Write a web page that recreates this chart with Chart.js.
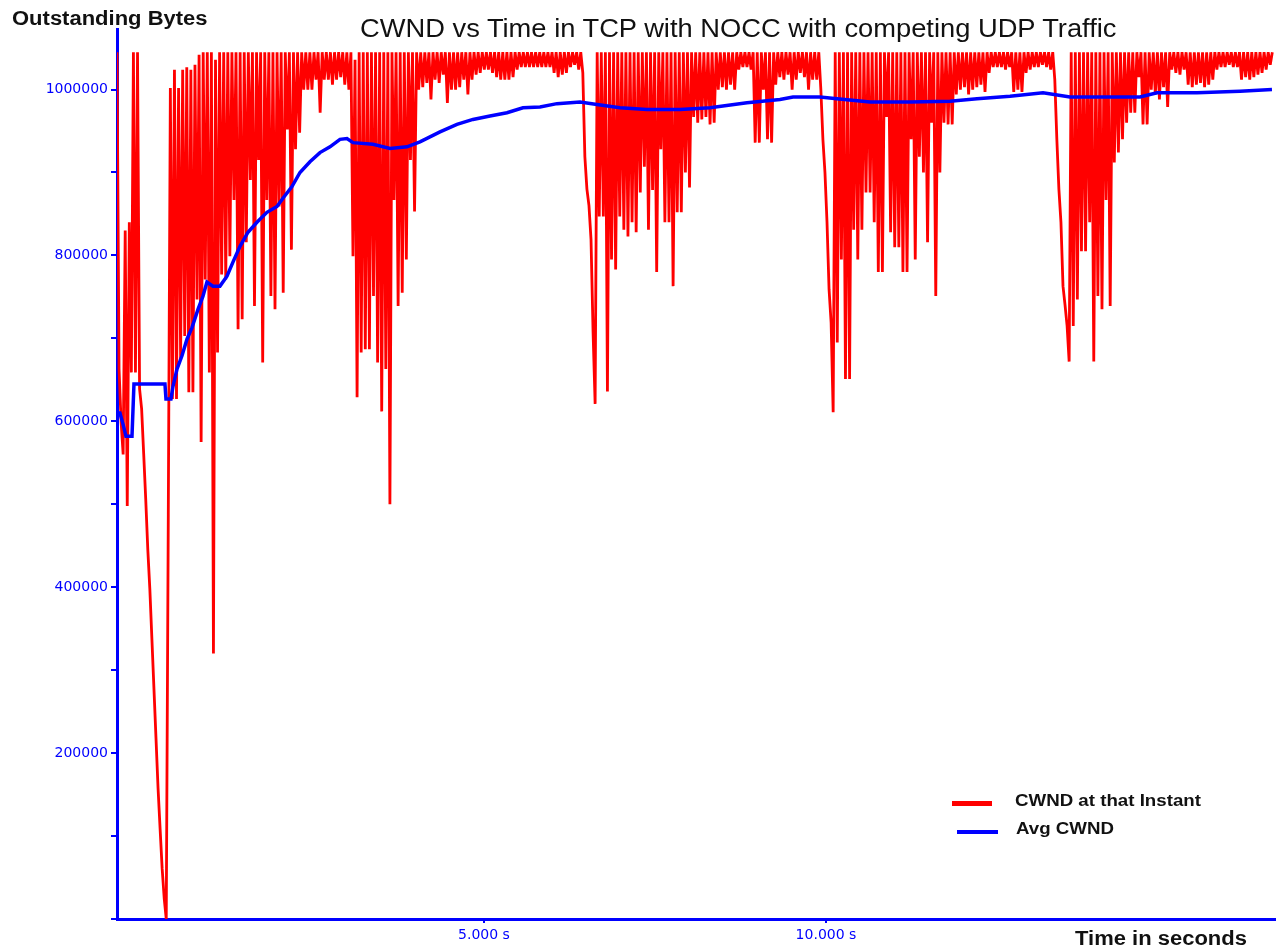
<!DOCTYPE html>
<html>
<head>
<meta charset="utf-8">
<title>CWND vs Time in TCP with NOCC with competing UDP Traffic</title>
<script src="https://cdn.jsdelivr.net/npm/chart.js@4.4.0/dist/chart.umd.min.js"></script>
<style>
    html, body { margin: 0; padding: 0; background: #ffffff; }
    #wrap { position: relative; width: 1276px; height: 951px; overflow: hidden; }
    #cwndChart { position: absolute; left: 0; top: 0; }
    .txt {
        position: absolute;
        font-family: "Liberation Sans", Arial, sans-serif;
        color: #111111;
        white-space: nowrap;
        transform-origin: 0 0;
    }
    #chartTitle { left: 360px; top: 15px; font-size: 26px; line-height: 26px; transform: scaleX(1.05); }
    #yTitle { left: 12px; top: 8px; font-size: 20px; line-height: 20px; font-weight: bold; transform: scaleX(1.1); }
    #xTitle { left: 1075px; top: 928px; font-size: 20px; line-height: 20px; font-weight: bold; transform: scaleX(1.1); }
    .legendText { font-size: 17px; line-height: 17px; font-weight: bold; transform: scaleX(1.1); }
    .legendLine { position: absolute; height: 4px; }
</style>
</head>
<body>
<div id="wrap">
    <canvas id="cwndChart" width="1276" height="951"></canvas>
    <div class="txt" id="chartTitle">CWND vs Time in TCP with NOCC with competing UDP Traffic</div>
    <div class="txt" id="yTitle">Outstanding Bytes</div>
    <div class="txt" id="xTitle">Time in seconds</div>
    <div class="legendLine" style="left:952px; top:801px; width:40px; height:5px; background:#ff0000;"></div>
    <div class="txt legendText" style="left:1015px; top:792px;">CWND at that Instant</div>
    <div class="legendLine" style="left:957px; top:830px; width:41px; background:#0000ff;"></div>
    <div class="txt legendText" style="left:1016px; top:820px;">Avg CWND</div>
</div>
<script>
// x axis range (seconds) and tick labels
const xMin = -0.365;
const xMax = 16.579;
const xTickValues = [5, 10];
const xTickLabels = ['5.000 s', '10.000 s'];

// y axis range (bytes); a tick mark every 100000, a label every 200000
const yMax = 1073000;
const yTickValues = [0, 100000, 200000, 300000, 400000, 500000, 600000, 700000, 800000, 900000, 1000000];
const yLabelValues = [200000, 400000, 600000, 800000, 1000000];

// CWND trace, sampled every 0.03 s starting at redStart
const redStart = -0.365;
const redStep = 0.03;
const redValues = [
    1045000, 663000, 599000, 560000, 830000, 498000, 840000, 659000, 1045000, 659000,
    1045000, 639000, 615000, 561000, 506000, 446000, 398000, 338000, 278000, 218000,
    158000, 109000, 61000, 25000, 0, 488000, 1002000, 627000, 1024000, 627000,
    1002000, 675000, 1024000, 703000, 1027000, 635000, 1024000, 635000, 1030000, 747000,
    1042000, 575000, 1045000, 771000, 1045000, 659000, 1045000, 320000, 1036000, 683000,
    1045000, 777000, 1045000, 771000, 1045000, 799000, 1045000, 867000, 1045000, 711000,
    1045000, 723000, 1045000, 816000, 1045000, 891000, 1045000, 739000, 1045000, 915000,
    1045000, 671000, 1045000, 867000, 1045000, 751000, 1045000, 735000, 1045000, 859000,
    1045000, 755000, 1045000, 952000, 1045000, 807000, 1045000, 928000, 1045000, 948000,
    1045000, 1000000, 1045000, 1000000, 1045000, 1000000, 1045000, 1012000, 1045000, 972000,
    1045000, 1012000, 1045000, 1012000, 1045000, 1006000, 1045000, 1012000, 1045000, 1015000,
    1045000, 1006000, 1045000, 1000000, 1045000, 799000, 1036000, 629000, 1045000, 683000,
    1045000, 687000, 1045000, 687000, 1045000, 751000, 1045000, 671000, 1045000, 612000,
    1045000, 663000, 1045000, 500000, 1045000, 867000, 1045000, 739000, 1045000, 755000,
    1045000, 795000, 1045000, 915000, 1045000, 853000, 1045000, 1000000, 1045000, 1003000,
    1045000, 1008000, 1045000, 988000, 1045000, 1012000, 1045000, 1008000, 1045000, 1018000,
    1045000, 984000, 1045000, 1000000, 1045000, 1000000, 1045000, 1003000, 1045000, 1012000,
    1045000, 994000, 1045000, 1012000, 1045000, 1018000, 1045000, 1020000, 1045000, 1024000,
    1045000, 1024000, 1045000, 1020000, 1045000, 1015000, 1045000, 1012000, 1045000, 1012000,
    1045000, 1012000, 1045000, 1015000, 1045000, 1024000, 1045000, 1027000, 1045000, 1027000,
    1045000, 1027000, 1045000, 1027000, 1045000, 1027000, 1045000, 1027000, 1045000, 1027000,
    1045000, 1027000, 1045000, 1020000, 1045000, 1015000, 1045000, 1018000, 1045000, 1020000,
    1045000, 1027000, 1045000, 1030000, 1045000, 1024000, 1045000, 1020000, 919000, 880000,
    860000, 819000, 707000, 621000, 1045000, 847000, 1045000, 847000, 1045000, 636000,
    1045000, 795000, 1045000, 783000, 1045000, 847000, 1045000, 831000, 1045000, 823000,
    1045000, 840000, 1045000, 828000, 1045000, 876000, 1045000, 907000, 1045000, 831000,
    1045000, 879000, 1045000, 780000, 1045000, 928000, 1045000, 840000, 1045000, 840000,
    1045000, 763000, 1045000, 852000, 1045000, 852000, 1045000, 900000, 1045000, 882000,
    1045000, 967000, 1045000, 960000, 1045000, 964000, 1045000, 967000, 1045000, 958000,
    1045000, 960000, 1045000, 1000000, 1045000, 1003000, 1045000, 1000000, 1045000, 1006000,
    1045000, 1000000, 1045000, 1024000, 1045000, 1027000, 1045000, 1027000, 1045000, 1024000,
    1045000, 936000, 1045000, 936000, 1045000, 1000000, 1045000, 940000, 1045000, 936000,
    1045000, 1006000, 1045000, 1015000, 1045000, 1012000, 1045000, 1018000, 1045000, 1000000,
    1045000, 1012000, 1045000, 1020000, 1045000, 1015000, 1045000, 1000000, 1045000, 1012000,
    1045000, 1012000, 1045000, 1000000, 940000, 900000, 840000, 759000, 719000, 611000,
    1045000, 695000, 1045000, 795000, 1045000, 651000, 1045000, 651000, 1045000, 831000,
    1045000, 795000, 1045000, 831000, 1045000, 876000, 1045000, 876000, 1045000, 840000,
    1045000, 780000, 1045000, 780000, 1045000, 967000, 1045000, 828000, 1045000, 810000,
    1045000, 810000, 1045000, 780000, 1045000, 780000, 1045000, 940000, 1045000, 795000,
    1045000, 919000, 1045000, 900000, 1045000, 816000, 1045000, 960000, 1045000, 751000,
    1045000, 900000, 1045000, 960000, 1045000, 958000, 1045000, 958000, 1045000, 994000,
    1045000, 1000000, 1045000, 1003000, 1045000, 994000, 1045000, 1000000, 1045000, 1003000,
    1045000, 1006000, 1045000, 997000, 1045000, 1020000, 1045000, 1027000, 1045000, 1027000,
    1045000, 1027000, 1045000, 1024000, 1045000, 1027000, 1045000, 997000, 1045000, 1000000,
    1045000, 997000, 1045000, 1020000, 1045000, 1024000, 1045000, 1027000, 1045000, 1027000,
    1045000, 1030000, 1045000, 1027000, 1045000, 1024000, 1045000, 1012000, 940000, 880000,
    840000, 763000, 740000, 715000, 672000, 1045000, 715000, 1045000, 747000, 1045000,
    805000, 1045000, 805000, 1045000, 840000, 1045000, 672000, 1045000, 751000, 1045000,
    735000, 1045000, 867000, 1045000, 739000, 1045000, 912000, 1045000, 924000, 1045000,
    940000, 1045000, 960000, 1045000, 972000, 1045000, 972000, 1045000, 1015000, 1045000,
    958000, 1045000, 958000, 1045000, 1000000, 1045000, 994000, 1045000, 988000, 1045000,
    1003000, 1045000, 979000, 1045000, 1024000, 1045000, 1020000, 1045000, 1018000, 1045000,
    1024000, 1045000, 1006000, 1045000, 1003000, 1045000, 1006000, 1045000, 1008000, 1045000,
    1003000, 1045000, 1006000, 1045000, 1012000, 1045000, 1024000, 1045000, 1027000, 1045000,
    1027000, 1045000, 1030000, 1045000, 1027000, 1045000, 1027000, 1045000, 1012000, 1045000,
    1015000, 1045000, 1012000, 1045000, 1015000, 1045000, 1018000, 1045000, 1020000, 1045000,
    1024000, 1045000, 1030000, 1045000
];

// average CWND
const blueTimes = [
    -0.365, -0.365, -0.322, -0.278, -0.234, -0.146, -0.117, 0.336, 0.351, 0.424,
    0.453, 0.512, 0.585, 0.658, 0.731, 0.819, 0.892, 0.950, 1.038, 1.140,
    1.243, 1.330, 1.433, 1.550, 1.681, 1.827, 1.974, 2.061, 2.193, 2.310,
    2.456, 2.602, 2.749, 2.895, 2.997, 3.085, 3.377, 3.626, 3.874, 4.064,
    4.357, 4.605, 4.839, 5.088, 5.336, 5.570, 5.819, 6.067, 6.404, 6.652,
    6.988, 7.383, 7.865, 8.304, 8.845, 9.327, 9.518, 9.912, 10.161, 10.643,
    11.228, 11.813, 12.208, 12.690, 13.173, 13.567, 14.591, 14.839, 15.424, 16.053,
    16.520
];
const blueValues = [
    0, 610000, 610000, 597000, 582000, 582000, 645000, 645000, 627000, 627000,
    642000, 663000, 679000, 699000, 713000, 735000, 751000, 768000, 763000, 763000,
    775000, 792000, 811000, 828000, 840000, 852000, 859000, 869000, 883000, 900000,
    913000, 924000, 931000, 940000, 941000, 936000, 934000, 929000, 931000, 937000,
    949000, 958000, 964000, 968000, 972000, 978000, 979000, 983000, 985000, 982000,
    978000, 976000, 976000, 978000, 984000, 988000, 991000, 991000, 989000, 985000,
    985000, 986000, 989000, 992000, 996000, 991000, 991000, 996000, 996000, 998000,
    1000000
];

// build {x, y} points for the linear x scale
const redData = redValues.map((v, i) => ({ x: redStart + i * redStep, y: v }));
const blueData = blueTimes.map((t, i) => ({ x: t, y: blueValues[i] }));

const axisBlue = '#0000ff';
const tickFont = { family: 'DejaVu Sans', size: 14 };

const ctx = document.getElementById('cwndChart').getContext('2d');

new Chart(ctx, {
    type: 'line',
    data: {
        datasets: [
            {
                label: 'CWND at that Instant',
                data: redData,
                borderColor: '#ff0000',
                borderWidth: 2.8,
                borderJoinStyle: 'bevel', // no miter spikes above the cap
                pointRadius: 0,
                fill: false,
                tension: 0,
                order: 1
            },
            {
                label: 'Avg CWND',
                data: blueData,
                borderColor: '#0000ff',
                borderWidth: 3.5,
                pointRadius: 0,
                fill: false,
                tension: 0,
                order: 0
            }
        ]
    },
    options: {
        responsive: false,
        animation: false,
        layout: { padding: { top: 29, left: 0, right: 0, bottom: 0 } },
        plugins: {
            legend: { display: false },
            tooltip: { enabled: false },
            title: { display: false }
        },
        scales: {
            x: {
                type: 'linear',
                min: xMin,
                max: xMax,
                afterFit: function(scale) { scale.height = 32; },
                afterBuildTicks: function(scale) {
                    scale.ticks = xTickValues.map(v => ({ value: v }));
                },
                grid: {
                    display: true,
                    drawOnChartArea: false,
                    drawTicks: true,
                    tickLength: 4,
                    color: axisBlue,
                    lineWidth: 2
                },
                border: { display: true, color: axisBlue, width: 3 },
                ticks: {
                    color: axisBlue,
                    font: tickFont,
                    padding: 4,
                    maxRotation: 0,
                    autoSkip: false,
                    callback: function(value) {
                        const k = xTickValues.indexOf(value);
                        return k >= 0 ? xTickLabels[k] : '';
                    }
                }
            },
            y: {
                type: 'linear',
                min: 0,
                max: yMax,
                afterFit: function(scale) { scale.width = 117; },
                afterBuildTicks: function(scale) {
                    scale.ticks = yTickValues.map(v => ({ value: v }));
                },
                grid: {
                    display: true,
                    drawOnChartArea: false,
                    drawTicks: true,
                    tickLength: 6,
                    color: axisBlue,
                    lineWidth: 2
                },
                border: { display: true, color: axisBlue, width: 3 },
                ticks: {
                    autoSkip: false,
                    color: axisBlue,
                    font: tickFont,
                    padding: 3,
                    callback: function(value) {
                        // labels only every 200000
                        return yLabelValues.indexOf(value) >= 0 ? String(value) : '';
                    }
                }
            }
        }
    }
});
</script>
</body>
</html>
